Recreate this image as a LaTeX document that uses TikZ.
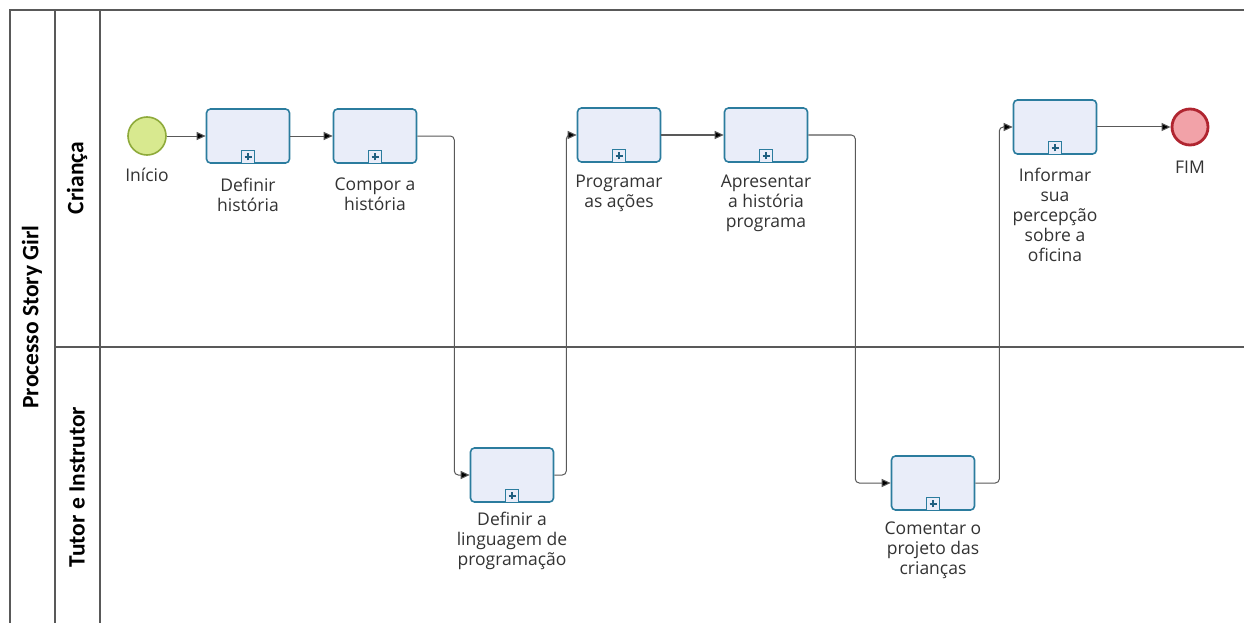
\documentclass[tikz,border=0pt]{standalone}
\usepackage{fontspec}
\setmainfont{Open Sans}
\newfontfamily\titlefont{Carlito}
\usetikzlibrary{positioning,arrows.meta}

\definecolor{taskline}{HTML}{2B7C9E}
\definecolor{taskfill}{HTML}{E9EDF9}
\definecolor{startline}{HTML}{8EAA3A}
\definecolor{startfill}{HTML}{D8E98F}
\definecolor{endline}{HTML}{B02530}
\definecolor{endfill}{HTML}{F2A2A8}
\definecolor{plusmark}{HTML}{1F5F80}

\begin{document}
\begin{tikzpicture}[
  x=1pt, y=-1pt,
  every node/.style={font=\fontsize{17.5}{20}\selectfont},
  pool/.style={draw=black!65, line width=1.6pt},
  lanetitle/.style={rotate=90, font=\titlefont\fontsize{23.5}{26}\selectfont\bfseries},
  task/.style={draw=taskline, fill=taskfill, rounded corners=4pt, line width=1.6pt,
    minimum width=83pt, minimum height=54pt, inner sep=0pt},
  marker/.style={draw=taskline, fill=taskfill, line width=1pt, minimum size=13pt,
    inner sep=0pt, anchor=south,
    path picture={\draw[plusmark, line width=2pt]
      (path picture bounding box.center) +(-3.5pt,0) -- +(3.5pt,0)
      (path picture bounding box.center) +(0,-3.5pt) -- +(0,3.5pt);}},
  startev/.style={circle, draw=startline, fill=startfill, line width=1.6pt, minimum size=38pt},
  endev/.style={circle, draw=endline, fill=endfill, line width=2.8pt, minimum size=36pt},
  lab/.style={align=center, text=black!80, inner sep=0pt},
  flow/.style={draw=black!65, line width=1pt, rounded corners=4pt,
    -{Triangle[length=9pt,width=8pt,fill=black]}}
]
\useasboundingbox[fill=white] (0,0) rectangle (1244,623);

\draw[pool] (10,623) -- (10,10) -- (1244,10);
\draw[pool] (55,10) -- (55,623);
\draw[pool] (100,10) -- (100,623);
\draw[pool] (55,347) -- (1244,347);

\node[lanetitle] (pooltitle) at (32,317) {Processo Story Girl};
\node[lanetitle] (lane1) at (77,178) {Criança};
\node[lanetitle] (lane2) at (77,487) {Tutor e Instrutor};

\node[startev] (start) at (147,136) {};
\node[task] (t1) at (248,136) {};
\node[task] (t2) at (375,136) {};
\node[task] (t3) at (512,475) {};
\node[task] (t4) at (619,135) {};
\node[task] (t5) at (766,135) {};
\node[task] (t6) at (933,483) {};
\node[task] (t7) at (1055,127) {};
\node[endev] (fim) at (1190,127) {};

\foreach \t in {t1,t2,t3,t4,t5,t6,t7}
  \node[marker] (\t m) at (\t.south) {};

\node[lab, below=12pt of start] (startl) {Início};
\node[lab, below=14pt of t1] (t1l) {Definir\\história};
\node[lab, below=14pt of t2] (t2l) {Compor a\\história};
\node[lab, below=9pt of t3] (t3l) {Definir a\\linguagem de\\programação};
\node[lab, below=12pt of t4] (t4l) {Programar\\as ações};
\node[lab, below=12pt of t5] (t5l) {Apresentar\\a história\\programa};
\node[lab, below=11pt of t6] (t6l) {Comentar o\\projeto das\\crianças};
\node[lab, below=13pt of t7] (t7l) {Informar\\sua\\percepção\\sobre a\\oficina};
\node[lab, below=14pt of fim] (fiml) {FIM};

\draw[flow] (start) -- (t1);
\draw[flow] (t1) -- (t2);
\draw[flow] (t2.east) -- ++(37,0) |- (t3.west);
\draw[flow] (t3.east) -- ++(12,0) |- (t4.west);
\draw[flow] (t4) -- (t5);
\draw[flow] (t5.east) -- ++(47,0) |- (t6.west);
\draw[flow] (t6.east) -- ++(24,0) |- (t7.west);
\draw[flow] (t7) -- (fim);
\end{tikzpicture}
\end{document}
